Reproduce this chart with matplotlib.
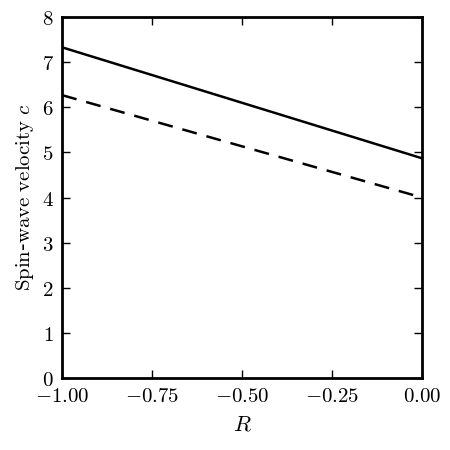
import matplotlib
matplotlib.use("Agg")
import matplotlib.pyplot as plt
from matplotlib.ticker import FuncFormatter

plt.rcParams['mathtext.fontset'] = 'cm'

R = [-1.0, 0.0]
c_solid = [7.33, 4.87]
c_dashed = [6.27, 4.0]

fig = plt.figure(figsize=(4.5, 4.5), dpi=100)
ax = fig.add_axes([0.138, 0.16, 0.80, 0.802])
ax.plot(R, c_solid, 'k-', lw=1.8)
ax.plot(R, c_dashed, 'k--', lw=1.8, dashes=(6, 4))
ax.set_xlim(-1, 0)
ax.set_ylim(0, 8)
ax.set_xticks([-1.0, -0.75, -0.5, -0.25, 0.0])
ax.set_yticks(range(0, 9))
ax.xaxis.set_major_formatter(FuncFormatter(lambda v, p: r'$%.2f$' % v if abs(v) > 1e-9 else r'$0.00$'))
ax.yaxis.set_major_formatter(FuncFormatter(lambda v, p: r'$%d$' % v))
ax.tick_params(direction='in', top=True, right=True, length=6, width=1, labelsize=15, pad=6)
for s in ax.spines.values():
    s.set_linewidth(2)
ax.set_xlabel(r'$R$', fontsize=16, labelpad=6)
ax.set_ylabel(r'$\mathrm{Spin}$-$\mathrm{wave\ velocity}\ c$', fontsize=15)
fig.savefig('out.png', dpi=100)
